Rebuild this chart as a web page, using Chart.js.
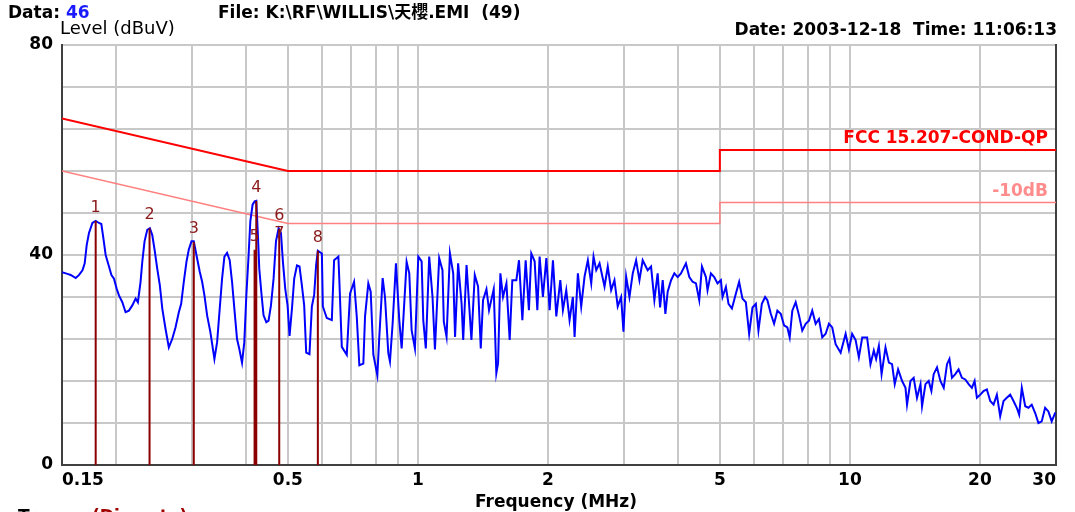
<!DOCTYPE html>
<html><head><meta charset="utf-8">
<script src="https://cdn.jsdelivr.net/npm/chart.js@4.4.1/dist/chart.umd.min.js"></script>
<style>html,body{margin:0;padding:0;background:#fff;}#wrap{width:1075px;height:512px;position:relative;overflow:hidden;}</style>
</head><body><div id="wrap"><canvas id="c" width="1075" height="512"></canvas></div>
<script>
// ---- data ----
const traceFreq = [
0.150,0.1544,0.1571,0.1614,0.1643,0.1673,0.1693,0.1711,0.1732,0.1764,0.1795,0.1827,0.1850,0.1870,0.1893,0.1927,0.1952,0.1979,0.2007,0.2032,
0.2069,0.2105,0.2143,0.2182,0.2221,0.2248,0.2280,0.2301,0.2329,0.2363,0.2396,0.2427,0.2457,0.2492,0.2527,0.2560,0.2605,0.2651,0.2699,0.2747,
0.2796,0.2831,0.2871,0.2912,0.2948,0.2991,0.3028,0.3071,0.3126,0.3166,0.3205,0.3251,0.3308,0.3380,0.3429,0.3477,0.3521,0.3565,0.3616,0.3667,
0.3713,0.3759,0.3813,0.3860,0.3916,0.3964,0.4007,0.4056,0.4093,0.4143,0.4187,0.4225,0.4262,0.4293,0.4339,0.4392,0.4457,0.4511,0.4569,0.4633,
0.4693,0.4759,0.4819,0.4870,0.4930,0.4992,0.5045,0.5110,0.5172,0.5248,0.5320,0.5388,0.5454,0.5513,0.5610,0.5682,0.5752,0.5813,0.5866,0.5993,
0.6025,0.6152,0.6320,0.6397,0.6545,0.6580,0.6665,0.6844,0.6966,0.7115,0.7218,0.7318,0.7476,0.7544,0.7677,0.7775,0.7886,0.8055,0.8140,0.8287,
0.8390,0.8540,0.8616,0.8740,0.8896,0.9055,0.9170,0.9416,0.9550,0.9670,0.9842,1.002,1.020,1.029,1.043,1.062,1.081,1.095,1.120,1.140,
1.148,1.165,1.186,1.207,1.219,1.239,1.262,1.273,1.296,1.330,1.354,1.378,1.398,1.415,1.441,1.461,1.498,1.519,1.533,1.552,
1.574,1.603,1.631,1.654,1.690,1.714,1.745,1.776,1.807,1.830,1.863,1.890,1.913,1.947,1.983,2.018,2.054,2.091,2.136,2.166,
2.205,2.244,2.284,2.305,2.346,2.388,2.431,2.474,2.519,2.550,2.587,2.633,2.704,2.751,2.801,2.851,2.901,2.954,2.991,3.034,
3.088,3.143,3.200,3.257,3.314,3.403,3.465,3.527,3.589,3.636,3.687,3.740,3.786,3.855,3.923,3.993,4.064,4.173,4.249,4.324,
4.402,4.480,4.545,4.642,4.682,4.767,4.852,4.938,5.028,5.072,5.164,5.236,5.332,5.445,5.541,5.640,5.743,5.845,5.950,6.058,
6.142,6.254,6.365,6.442,6.560,6.676,6.794,6.918,7.040,7.165,7.256,7.357,7.491,7.624,7.758,7.900,8.040,8.182,8.332,8.480,
8.630,8.788,8.943,9.102,9.268,9.518,9.775,9.947,10.12,10.31,10.49,10.68,10.96,11.16,11.36,11.50,11.67,11.84,12.09,12.31,
12.52,12.70,12.93,13.21,13.45,13.56,13.81,14.05,14.30,14.57,14.69,14.96,15.22,15.44,15.63,15.91,16.20,16.49,16.78,17.00,
17.23,17.54,17.85,18.17,18.50,18.83,19.16,19.44,19.68,20.04,20.39,20.75,21.13,21.51,21.89,22.28,22.68,23.08,23.50,23.92,
24.34,24.65,25.00,25.46,25.91,26.36,26.85,27.32,27.80,28.31,28.81,29.32,29.90
];
const traceLevel = [
36.7,36.4,36.2,35.6,36.2,37.1,38.4,41.9,44.2,46.1,46.5,46.1,45.9,43.2,40.0,37.8,36.2,35.5,33.6,32.3,
31.0,29.1,29.4,30.4,31.7,31.0,34.9,38.7,42.6,44.8,45.1,43.8,41.0,37.4,34.2,29.8,25.9,22.4,24.0,26.2,
29.1,30.7,34.9,38.7,41.0,42.6,42.6,40.0,36.8,34.9,32.3,28.5,25.3,20.2,23.4,29.8,35.5,39.7,40.4,39.0,
34.9,29.8,24.0,22.1,19.5,23.4,32.3,40.0,46.4,49.6,50.2,50.3,43.8,37.4,33.0,28.5,27.2,27.5,30.4,35.5,
42.6,45.1,44.2,38.7,33.6,30.4,24.6,29.8,35.5,38.0,37.8,34.2,30.4,21.4,21.1,30.2,32.4,38.1,40.8,40.3,
30.2,28.0,27.6,39.0,39.7,34.9,22.5,21.0,32.7,34.9,28.3,19.0,19.3,28.3,34.6,33.0,21.0,17.1,24.4,35.6,
32.0,21.3,19.7,27.0,38.4,27.6,22.2,38.7,36.5,25.7,22.2,39.7,38.8,27.6,22.2,39.7,32.0,22.0,39.4,37.1,
27.3,24.4,40.3,36.5,24.4,38.4,30.8,23.8,38.1,23.8,36.2,34.0,22.2,31.4,33.5,29.5,33.5,17.5,19.4,36.5,
32.0,34.6,23.8,35.2,35.2,39.0,27.6,39.0,29.5,40.3,38.8,29.5,39.7,32.0,39.4,29.5,39.0,28.3,35.2,29.5,
33.3,27.6,32.0,24.4,36.5,30.2,35.9,39.0,34.6,39.7,37.1,38.4,34.0,37.8,33.3,35.2,30.2,32.0,25.4,35.9,
32.0,36.5,39.0,35.2,39.0,37.1,37.8,31.4,36.5,30.0,35.2,28.8,33.0,35.2,36.5,35.8,36.5,38.4,35.8,34.9,
34.6,31.4,37.8,35.8,33.3,36.5,35.8,34.6,35.2,32.0,33.9,30.7,29.8,32.6,34.9,31.7,31.0,25.0,30.0,30.7,
25.6,30.7,32.0,31.4,28.8,26.9,29.4,28.8,26.6,26.2,24.3,29.4,31.0,28.5,25.6,26.9,27.5,29.4,26.9,27.8,
24.3,25.0,26.9,26.2,23.0,21.4,25.0,22.0,25.0,23.8,20.5,24.3,24.3,19.2,21.8,20.2,22.7,17.3,22.4,19.5,
19.2,15.4,18.2,16.0,14.7,11.5,16.0,16.6,12.8,15.4,11.2,15.4,16.0,14.1,17.3,18.6,16.0,14.7,19.2,20.2,
16.6,17.3,18.2,16.6,16.3,15.4,14.7,16.0,12.8,13.4,14.1,14.4,12.2,11.5,13.4,9.3,12.2,12.8,13.4,12.2,
10.9,9.6,14.7,11.2,10.9,11.5,9.9,8.0,8.3,10.9,10.2,8.3,10.0
];
const limitFreq = [0.15, 0.5, 5, 5, 30];
const qpLimit = [66, 56, 56, 60, 60];
const qpMinus10 = [56, 46, 46, 50, 50];
const markerNo = [1, 2, 3, 4, 5, 6, 7, 8];
const markerFreq = [0.1795, 0.2392, 0.3028, 0.4225, 0.4187, 0.4775, 0.4775, 0.5866];
const markerLevel = [46.5, 45.1, 42.5, 50.3, 41.0, 45.0, 41.5, 40.8];
const xGridValues = [0.15, 0.2, 0.3, 0.4, 0.5, 0.6, 0.7, 0.8, 0.9, 1, 2, 3, 4, 5, 6, 7, 8, 9, 10, 20, 30];
const xLabelValues = [0.15, 0.5, 1, 2, 5, 10, 20, 30];
const yLabelValues = [0, 40, 80];

// ---- chart ----
const FAM = '"DejaVu Sans", "Noto Sans CJK TC", sans-serif';
Chart.defaults.font.family = FAM;
const tickFont = {size: 17, weight: 'bold'};
const GRID = 'rgb(200,200,200)';
const AXIS = '#404040';

const trace = traceFreq.map((f, i) => ({x: f, y: traceLevel[i]}));
const limQP = limitFreq.map((f, i) => ({x: f, y: qpLimit[i]}));
const lim10 = limitFreq.map((f, i) => ({x: f, y: qpMinus10[i]}));
const markerData = [];
markerFreq.forEach((f, i) => { markerData.push({x: f, y: 0}, {x: f, y: markerLevel[i]}, {x: f, y: null}); });

const textPlugin = {
  id: 'texts',
  afterDatasetsDraw(chart) {
    const ctx = chart.ctx, xs = chart.scales.x, ys = chart.scales.y;
    ctx.save();
    ctx.font = '16px ' + FAM;
    ctx.fillStyle = '#8b1a1a';
    ctx.textAlign = 'center';
    ctx.textBaseline = 'middle';
    markerFreq.forEach((f, i) => {
      ctx.fillText(String(markerNo[i]), xs.getPixelForValue(f), ys.getPixelForValue(markerLevel[i]) - 13);
    });
    ctx.font = 'bold 17px ' + FAM;
    ctx.textAlign = 'right';
    ctx.textBaseline = 'alphabetic';
    ctx.fillStyle = '#ff0000';
    ctx.fillText('FCC 15.207-COND-QP', xs.right - 8, ys.getPixelForValue(qpLimit[4]) - 7);
    ctx.fillStyle = '#ff8c8c';
    ctx.fillText('-10dB', xs.right - 8, ys.getPixelForValue(qpMinus10[4]) - 7);
    ctx.restore();
  },
  afterDraw(chart) {
    const ctx = chart.ctx;
    ctx.save();
    ctx.textBaseline = 'alphabetic';
    ctx.textAlign = 'left';
    ctx.font = 'bold 17px ' + FAM;
    ctx.fillStyle = '#000';
    ctx.fillText('Data: ', 8, 18);
    const w = ctx.measureText('Data: ').width;
    ctx.fillStyle = '#1a1aff';
    ctx.fillText('46', 8 + w, 18);
    ctx.fillStyle = '#000';
    ctx.fillText('File: K:\\RF\\WILLIS\\天櫻.EMI  (49)', 218, 18);
    ctx.textAlign = 'right';
    ctx.fillText('Date: 2003-12-18  Time: 11:06:13', 1057, 35);
    ctx.textAlign = 'center';
    ctx.fillText('Frequency (MHz)', 556, 507);
    ctx.textAlign = 'left';
    ctx.fillText('Trace: ', 18, 522);
    ctx.fillStyle = '#a00000';
    ctx.fillText('(Discrete)', 92, 522);
    ctx.fillStyle = '#000';
    ctx.font = '18px ' + FAM;
    ctx.fillText('Level (dBuV)', 60, 34);
    ctx.restore();
  }
};

new Chart(document.getElementById('c'), {
  type: 'line',
  data: {datasets: [
    {label: 'Markers', data: markerData, borderColor: '#8b0000', borderWidth: 2, pointRadius: 0, spanGaps: false, order: 0},
    {label: 'Trace', data: trace, borderColor: '#0000ff', borderWidth: 2, pointRadius: 0, tension: 0, order: 1},
    {label: 'FCC 15.207-COND-QP', data: limQP, borderColor: '#ff0000', borderWidth: 2, pointRadius: 0, order: 2},
    {label: '-10dB', data: lim10, borderColor: '#ff8080', borderWidth: 1.5, pointRadius: 0, order: 3}
  ]},
  options: {
    responsive: false, animation: false, devicePixelRatio: 1,
    layout: {padding: {top: 45, left: 0, right: 0, bottom: 0}},
    plugins: {legend: {display: false}, tooltip: {enabled: false}},
    scales: {
      x: {
        type: 'logarithmic', min: 0.15, max: 30,
        afterBuildTicks: s => { s.ticks = xGridValues.map(v => ({value: v})); },
        afterFit: s => { s.height = 47; },
        grid: {color: GRID, lineWidth: 2, drawTicks: false},
        border: {color: AXIS, width: 2},
        ticks: {autoSkip: false, maxRotation: 0, minRotation: 0, align: 'inner', padding: 5, color: '#000', font: tickFont,
          callback: v => xLabelValues.includes(v) ? String(v) : ''}
      },
      y: {
        type: 'linear', min: 0, max: 80,
        afterFit: s => { s.width = 62; },
        grid: {color: GRID, lineWidth: 2, drawTicks: false},
        border: {color: AXIS, width: 2},
        ticks: {stepSize: 8, autoSkip: false, padding: 9, color: '#000', font: tickFont,
          callback: v => yLabelValues.includes(v) ? String(v) : ''}
      },
      yr: {
        type: 'linear', position: 'right', min: 0, max: 80,
        afterFit: s => { s.width = 19; },
        grid: {display: false, drawTicks: false},
        border: {color: AXIS, width: 2},
        ticks: {display: false}
      }
    }
  },
  plugins: [textPlugin]
});
</script>
</body></html>
